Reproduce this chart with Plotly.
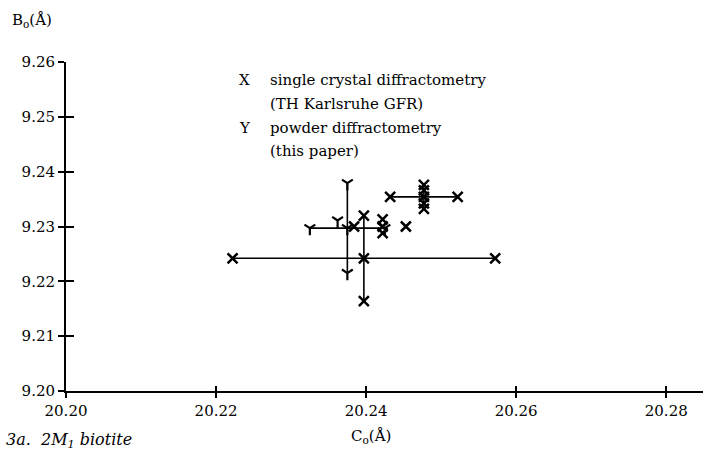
import plotly.graph_objects as go

# ---------------- data ----------------
# X : single crystal diffractometry, points with error bars
sc_c = [20.2397, 20.2477]
sc_b = [9.2242, 9.2354]
sc_dc = [0.0175, 0.0045]
sc_db = [0.0078, 0.0022]
# X : single crystal diffractometry, further points
sc2_c = [20.2384, 20.2422, 20.2422, 20.2422, 20.2453, 20.2477, 20.2477]
sc2_b = [9.2300, 9.2313, 9.2300, 9.2288, 9.2300, 9.2366, 9.2342]

# Y : powder diffractometry, point with error bars
pw_c = [20.2375]
pw_b = [9.2297]
pw_dc = [0.0050]
pw_db = [0.0082]
# Y : powder diffractometry, further point
pw2_c = [20.2362]
pw2_b = [9.2311]

x_ticks = [20.20, 20.22, 20.24, 20.26, 20.28]
y_ticks = [9.20, 9.21, 9.22, 9.23, 9.24, 9.25, 9.26]
x_range = [20.20, 20.2849]
y_range = [9.20, 9.26]

FONT = "DejaVu Serif"
W, H = 703, 452
ML, MR, MT, MB = 66, 0, 62, 61
PW, PH = W - ML - MR, H - MT - MB


def px(xp):
    return (xp - ML) / PW


def py(yp):
    return (H - MB - yp) / PH


def ends(c, b, dc, db):
    xs, ys = [], []
    for ci, bi, dci, dbi in zip(c, b, dc, db):
        xs += [ci - dci, ci + dci, ci, ci]
        ys += [bi, bi, bi - dbi, bi + dbi]
    return xs, ys


fig = go.Figure()

err_style = dict(type="data", color="black", thickness=1.6, width=0)
x_marker = dict(symbol="x-thin-open", size=10, line=dict(width=2.5, color="black"), color="black")
y_marker = dict(symbol="y-down-open", size=9, line=dict(width=2.2, color="black"), color="black")

# error bars
fig.add_trace(go.Scatter(
    x=sc_c, y=sc_b, mode="markers", marker=x_marker,
    error_x=dict(array=sc_dc, **err_style),
    error_y=dict(array=sc_db, **err_style),
    showlegend=False, hoverinfo="skip"))
fig.add_trace(go.Scatter(
    x=pw_c, y=pw_b, mode="markers", marker=y_marker,
    error_x=dict(array=pw_dc, **err_style),
    error_y=dict(array=pw_db, **err_style),
    showlegend=False, hoverinfo="skip"))

# markers at the error-bar ends and further points
ex, ey = ends(sc_c, sc_b, sc_dc, sc_db)
fig.add_trace(go.Scatter(
    x=ex + sc2_c, y=ey + sc2_b, mode="markers", marker=x_marker,
    showlegend=False, hoverinfo="skip"))
ex, ey = ends(pw_c, pw_b, pw_dc, pw_db)
fig.add_trace(go.Scatter(
    x=ex + pw2_c, y=ey + pw2_b, mode="markers", marker=y_marker,
    showlegend=False, hoverinfo="skip"))

# invisible trace for the overlay (inside-tick) axes
fig.add_trace(go.Scatter(x=[None], y=[None], xaxis="x2", yaxis="y2",
                         showlegend=False, hoverinfo="skip"))

tick_font = dict(family=FONT, size=15, color="black")
fig.update_layout(
    width=W, height=H,
    margin=dict(l=ML, r=MR, t=MT, b=MB, pad=0),
    paper_bgcolor="white", plot_bgcolor="white",
    showlegend=False,
    xaxis=dict(range=x_range, tickvals=x_ticks, tickformat=".2f",
               showgrid=False, zeroline=False, showline=True, linecolor="black",
               linewidth=2, ticks="outside", ticklen=5, tickwidth=2, tickcolor="black",
               tickfont=tick_font, fixedrange=True),
    yaxis=dict(range=y_range, tickvals=y_ticks, tickformat=".2f",
               showgrid=False, zeroline=False, showline=True, linecolor="black",
               linewidth=2, ticks="outside", ticklen=6, tickwidth=2, tickcolor="black",
               tickfont=tick_font, fixedrange=True),
    xaxis2=dict(range=x_range, tickvals=x_ticks, overlaying="x", anchor="y2", side="bottom",
                showgrid=False, zeroline=False, showline=False, showticklabels=False,
                ticks="inside", ticklen=5, tickwidth=2, tickcolor="black"),
    yaxis2=dict(range=y_range, tickvals=y_ticks, overlaying="y", anchor="x2", side="left",
                showgrid=False, zeroline=False, showline=False, showticklabels=False,
                ticks="inside", ticklen=8, tickwidth=2, tickcolor="black"),
)

ann_font = dict(family=FONT, size=15, color="black")
texts = [
    ("B<sub>o</sub>(Å)", 10, 21, "left", 15),
    ("X", 237, 80, "left", 15),
    ("single crystal diffractometry", 268, 80, "left", 15),
    ("(TH Karlsruhe GFR)", 268, 104, "left", 15),
    ("Y", 237, 128, "left", 15),
    ("powder diffractometry", 268, 128, "left", 15),
    ("(this paper)", 268, 151, "left", 15),
    ("C<sub>o</sub>(Å)", 371, 436, "center", 15),
    ("<i>3a.  2M<sub>1</sub> biotite</i>", 4, 440, "left", 16),
]
for t, x, y, xa, fs in texts:
    fig.add_annotation(text=t, xref="paper", yref="paper", x=px(x), y=py(y),
                       xanchor=xa, yanchor="middle", showarrow=False,
                       font=dict(family=FONT, size=fs, color="black"))

fig.write_html("out.html")
